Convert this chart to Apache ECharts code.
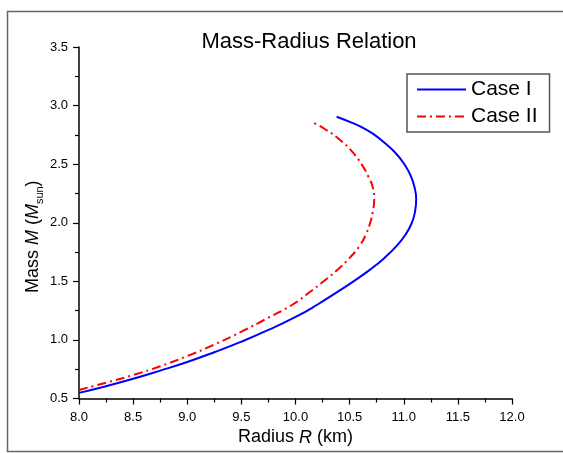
<!DOCTYPE html>
<html>
<head>
<meta charset="utf-8">
<script src="https://cdn.jsdelivr.net/npm/echarts@6/dist/echarts.min.js"></script>
<style>
  html, body { margin: 0; padding: 0; background: #fff; }
  #main { width: 563px; height: 453px; }
</style>
</head>
<body>
<div id="main"></div>
<script>
// Case I (solid blue)
var case1Radius = [8.00, 8.25, 8.50, 8.75, 9.00, 9.25, 9.50, 9.75, 10.01, 10.20, 10.37, 10.536, 10.689, 10.822, 10.932, 11.017, 11.075, 11.105, 11.115, 11.10, 11.065, 11.005, 10.92, 10.80, 10.73, 10.645, 10.53, 10.38];
var case1Mass = [0.548, 0.605, 0.668, 0.738, 0.812, 0.895, 0.985, 1.085, 1.20, 1.30, 1.40, 1.50, 1.60, 1.70, 1.80, 1.90, 2.00, 2.10, 2.20, 2.30, 2.40, 2.50, 2.60, 2.70, 2.75, 2.80, 2.85, 2.905];
// Case II (red dash-dot)
var case2Radius = [8.00, 8.25, 8.50, 8.75, 9.00, 9.25, 9.50, 9.75, 9.97, 10.12, 10.26, 10.39, 10.50, 10.59, 10.65, 10.69, 10.715, 10.727, 10.715, 10.67, 10.61, 10.53, 10.42, 10.27, 10.14];
var case2Mass = [0.573, 0.635, 0.700, 0.775, 0.862, 0.960, 1.070, 1.190, 1.30, 1.40, 1.50, 1.60, 1.70, 1.80, 1.90, 2.00, 2.10, 2.20, 2.30, 2.40, 2.50, 2.60, 2.70, 2.80, 2.866];
var seriesNames = ["Case I", "Case II"];

var FONT = "Liberation Sans, Arial, sans-serif";

function pairs(xs, ys) {
  var out = [];
  for (var i = 0; i < xs.length; i++) out.push([xs[i], ys[i]]);
  return out;
}

var myChart = echarts.init(document.getElementById("main"));
var option = {
  animation: false,
  backgroundColor: "#fff",
  title: {
    text: "Mass-Radius Relation",
    left: 304,
    textAlign: "center",
    top: 26,
    textStyle: { fontFamily: FONT, fontSize: 22, fontWeight: "normal", color: "#000" }
  },
  graphic: [
    {
      type: "rect",
      shape: { x: 7.5, y: 11.5, width: 600, height: 440 },
      style: { fill: "none", stroke: "#666", lineWidth: 1.5 },
      silent: true
    }
  ],
  legend: {
    data: seriesNames,
    orient: "vertical",
    left: 407,
    top: 74,
    padding: [5, 12, 5, 9],
    itemWidth: 49,
    itemHeight: 14,
    itemGap: 6,
    borderColor: "#555",
    borderWidth: 1.5,
    itemStyle: { opacity: 0 },
    textStyle: { fontFamily: FONT, fontSize: 21, color: "#000" }
  },
  grid: {
    left: 79,
    right: 51,
    top: 47,
    bottom: 54.5,
    containLabel: false,
    outerBoundsMode: "none"
  },
  xAxis: {
    type: "value",
    min: 8,
    max: 12,
    interval: 0.5,
    name: "Radius {i|R} (km)",
    nameLocation: "middle",
    nameGap: 30,
    nameMoveOverlap: false,
    nameTextStyle: {
      fontFamily: FONT, fontSize: 18, color: "#000",
      rich: { i: { fontFamily: FONT, fontSize: 18, fontStyle: "italic", color: "#000" } }
    },
    axisLine: { show: true, onZero: false, lineStyle: { color: "#000", width: 1.5 } },
    axisTick: { show: true, inside: false, length: 6, lineStyle: { color: "#000", width: 1.2 } },
    minorTick: { show: true, splitNumber: 2, length: 4, lineStyle: { color: "#000", width: 1.2 } },
    splitLine: { show: false },
    axisLabel: {
      margin: 12,
      fontFamily: FONT, fontSize: 13, color: "#000",
      formatter: function (v) { return v.toFixed(1); }
    }
  },
  yAxis: {
    type: "value",
    min: 0.5,
    max: 3.5,
    interval: 0.5,
    name: "{n|Mass }{i|M}{n| (}{i|M}{s|sun}{n|)}",
    nameLocation: "middle",
    nameRotate: 90,
    nameGap: 34,
    nameMoveOverlap: false,
    nameTextStyle: {
      padding: [0, 28, 0, 0],
      rich: {
        n: { fontFamily: FONT, fontSize: 18, color: "#000", lineHeight: 24 },
        i: { fontFamily: FONT, fontSize: 18, fontStyle: "italic", color: "#000", lineHeight: 24 },
        s: { fontFamily: FONT, fontSize: 11, color: "#000", lineHeight: 24, verticalAlign: "bottom" }
      }
    },
    axisLine: { show: true, onZero: false, lineStyle: { color: "#000", width: 1.5 } },
    axisTick: { show: true, inside: false, length: 6, lineStyle: { color: "#000", width: 1.2 } },
    minorTick: { show: true, splitNumber: 2, length: 4, lineStyle: { color: "#000", width: 1.2 } },
    splitLine: { show: false },
    axisLabel: {
      margin: 11,
      fontFamily: FONT, fontSize: 13, color: "#000",
      formatter: function (v) { return v.toFixed(1); }
    }
  },
  series: [
    {
      name: seriesNames[0],
      type: "line",
      data: pairs(case1Radius, case1Mass),
      smooth: 0.5,
      symbol: "none",
      lineStyle: { color: "#0000ff", width: 2, type: "solid" },
      itemStyle: { color: "#0000ff" }
    },
    {
      name: seriesNames[1],
      type: "line",
      data: pairs(case2Radius, case2Mass),
      smooth: 0.5,
      symbol: "none",
      lineStyle: { color: "#ff0000", width: 2, type: [9, 4, 2, 4] },
      itemStyle: { color: "#ff0000" }
    }
  ]
};
myChart.setOption(option);
</script>
</body>
</html>
